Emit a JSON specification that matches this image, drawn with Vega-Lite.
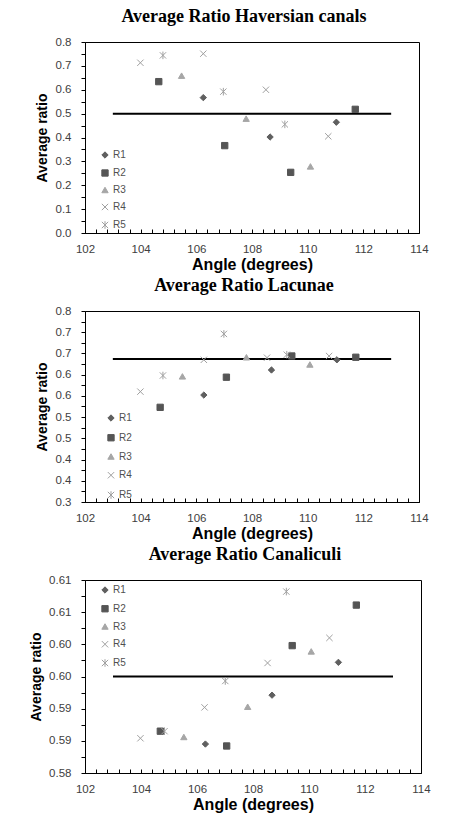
{
  "$schema": "https://vega.github.io/schema/vega-lite/v6.json",
  "padding": {"left": 29, "top": 7, "right": 10, "bottom": 4},
  "bounds": "flush",
  "spacing": 78,
  "config": {
    "view": {"stroke": "black", "strokeWidth": 1},
    "font": "Liberation Sans",
    "title": {"font": "Liberation Serif", "fontSize": 18, "fontWeight": "bold", "color": "black", "offset": 10, "frame": "group", "anchor": "middle", "dx": -8},
    "axis": {"grid": false, "domainColor": "black", "tickColor": "black", "labelFont": "Liberation Sans", "labelFontSize": 11.5, "labelColor": "#404040", "titleFont": "Liberation Sans", "titleColor": "black", "titleFontWeight": "bold", "labelOverlap": false, "labelFlush": false},
    "axisX": {"tickSize": -4, "labelPadding": 14, "titleFontSize": 16, "titlePadding": 2},
    "axisY": {"tickSize": 4, "labelPadding": 10, "titleFontSize": 14, "titlePadding": 6},
    "legend": {"labelFont": "Liberation Sans", "labelFontSize": 10, "labelColor": "#505050", "padding": 0, "symbolStrokeWidth": 1, "labelOffset": 3, "symbolSize": 40}
  },
  "datasets": {
    "lines": [
      {"panel": "H", "x": 103, "xe": 113, "y": 0.5},
      {"panel": "L", "x": 103, "xe": 113, "y": 0.637},
      {"panel": "C", "x": 103, "xe": 113, "y": 0.595}
    ],
    "points": [
      {"panel": "H", "series": "R1", "x": 106.25, "y": 0.567},
      {"panel": "H", "series": "R1", "x": 108.65, "y": 0.402},
      {"panel": "H", "series": "R1", "x": 111.03, "y": 0.464},
      {"panel": "H", "series": "R2", "x": 104.65, "y": 0.634},
      {"panel": "H", "series": "R2", "x": 107.02, "y": 0.366},
      {"panel": "H", "series": "R2", "x": 109.39, "y": 0.254},
      {"panel": "H", "series": "R2", "x": 111.71, "y": 0.518},
      {"panel": "H", "series": "R3", "x": 105.47, "y": 0.659},
      {"panel": "H", "series": "R3", "x": 107.79, "y": 0.479},
      {"panel": "H", "series": "R3", "x": 110.1, "y": 0.279},
      {"panel": "H", "series": "R4", "x": 103.99, "y": 0.713},
      {"panel": "H", "series": "R4", "x": 106.25, "y": 0.751},
      {"panel": "H", "series": "R4", "x": 108.5, "y": 0.6},
      {"panel": "H", "series": "R4", "x": 110.74, "y": 0.405},
      {"panel": "H", "series": "R5", "x": 104.8, "y": 0.744},
      {"panel": "H", "series": "R5", "x": 106.97, "y": 0.592},
      {"panel": "H", "series": "R5", "x": 109.18, "y": 0.455},
      {"panel": "L", "series": "R1", "x": 106.27, "y": 0.552},
      {"panel": "L", "series": "R1", "x": 108.7, "y": 0.611},
      {"panel": "L", "series": "R1", "x": 111.05, "y": 0.635},
      {"panel": "L", "series": "R2", "x": 104.7, "y": 0.523},
      {"panel": "L", "series": "R2", "x": 107.08, "y": 0.594},
      {"panel": "L", "series": "R2", "x": 109.43, "y": 0.644},
      {"panel": "L", "series": "R2", "x": 111.73, "y": 0.641},
      {"panel": "L", "series": "R3", "x": 105.5, "y": 0.596},
      {"panel": "L", "series": "R3", "x": 107.8, "y": 0.641},
      {"panel": "L", "series": "R3", "x": 110.08, "y": 0.624},
      {"panel": "L", "series": "R4", "x": 103.99, "y": 0.56},
      {"panel": "L", "series": "R4", "x": 106.27, "y": 0.635},
      {"panel": "L", "series": "R4", "x": 108.54, "y": 0.64},
      {"panel": "L", "series": "R4", "x": 110.77, "y": 0.644},
      {"panel": "L", "series": "R5", "x": 104.8, "y": 0.598},
      {"panel": "L", "series": "R5", "x": 106.99, "y": 0.696},
      {"panel": "L", "series": "R5", "x": 109.25, "y": 0.647},
      {"panel": "C", "series": "R1", "x": 106.3, "y": 0.5845},
      {"panel": "C", "series": "R1", "x": 108.68, "y": 0.5921},
      {"panel": "C", "series": "R1", "x": 111.05, "y": 0.5972},
      {"panel": "C", "series": "R2", "x": 104.69, "y": 0.5865},
      {"panel": "C", "series": "R2", "x": 107.06, "y": 0.5842},
      {"panel": "C", "series": "R2", "x": 109.4, "y": 0.5998},
      {"panel": "C", "series": "R2", "x": 111.69, "y": 0.6061},
      {"panel": "C", "series": "R3", "x": 105.53, "y": 0.5856},
      {"panel": "C", "series": "R3", "x": 107.81, "y": 0.5903},
      {"panel": "C", "series": "R3", "x": 110.08, "y": 0.5989},
      {"panel": "C", "series": "R4", "x": 103.98, "y": 0.5854},
      {"panel": "C", "series": "R4", "x": 106.27, "y": 0.5902},
      {"panel": "C", "series": "R4", "x": 108.52, "y": 0.5971},
      {"panel": "C", "series": "R4", "x": 110.73, "y": 0.601},
      {"panel": "C", "series": "R5", "x": 104.84, "y": 0.5865},
      {"panel": "C", "series": "R5", "x": 107.01, "y": 0.5943},
      {"panel": "C", "series": "R5", "x": 109.19, "y": 0.6082}
    ]
  },
  "vconcat": [
    {
      "title": "Average Ratio Haversian canals",
      "width": 334,
      "height": 191,
      "encoding": {
        "x": {"field": "x", "type": "quantitative", "scale": {"domain": [102, 114], "nice": false, "zero": false},
          "axis": {"title": "Angle (degrees)", "values": [102,102.4,102.8,103.2,103.6,104,104.4,104.8,105.2,105.6,106,106.4,106.8,107.2,107.6,108,108.4,108.8,109.2,109.6,110,110.4,110.8,111.2,111.6,112,112.4,112.8,113.2,113.6,114], "labelExpr": "round(datum.value*10) % 20 == 0 ? format(datum.value, '.0f') : ''"}},
        "y": {"field": "y", "type": "quantitative", "scale": {"domain": [0, 0.8], "nice": false, "zero": false},
          "axis": {"title": "Average ratio", "values": [0,0.05,0.1,0.15,0.2,0.25,0.3,0.35,0.4,0.45,0.5,0.55,0.6,0.65,0.7,0.75,0.8], "labelExpr": "round(datum.value*400) % 40 == 0 ? format(datum.value, '.1f') : ''"}}
      },
      "layer": [
        {"data": {"name": "lines"}, "transform": [{"filter": "datum.panel == 'H'"}], "mark": {"type": "rule", "color": "black", "strokeWidth": 2}, "encoding": {"x2": {"field": "xe"}}},
        {"data": {"name": "points"}, "transform": [{"filter": "datum.panel == 'H'"}],
          "mark": {"type": "point", "filled": false, "size": 40, "strokeWidth": 1, "opacity": 1},
          "encoding": {
            "color": {"field": "series", "type": "nominal", "scale": {"domain": ["R1","R2","R3","R4","R5"], "range": ["#5f5f5f","#555555","#a6a6a6","#a0a0a0","#a0a0a0"]}, "legend": {"title": null, "orient": "none", "legendX": 15, "legendY": 108, "rowPadding": 6}},
            "fill": {"field": "series", "type": "nominal", "scale": {"domain": ["R1","R2","R3","R4","R5"], "range": ["#5f5f5f","#555555","#a6a6a6","transparent","transparent"]}, "legend": {"title": null, "orient": "none", "legendX": 15, "legendY": 108, "rowPadding": 6}},
            "shape": {"field": "series", "type": "nominal", "scale": {"domain": ["R1","R2","R3","R4","R5"], "range": ["diamond","square","triangle-up","M-1,-1L1,1M-1,1L1,-1","M-1,-1L1,1M-1,1L1,-1M0,-1.2L0,1.2"]}, "legend": {"title": null, "orient": "none", "legendX": 15, "legendY": 108, "rowPadding": 6}}
          }}
      ]
    },
    {
      "title": "Average Ratio Lacunae",
      "width": 334,
      "height": 191,
      "encoding": {
        "x": {"field": "x", "type": "quantitative", "scale": {"domain": [102, 114], "nice": false, "zero": false},
          "axis": {"title": "Angle (degrees)", "values": [102,102.4,102.8,103.2,103.6,104,104.4,104.8,105.2,105.6,106,106.4,106.8,107.2,107.6,108,108.4,108.8,109.2,109.6,110,110.4,110.8,111.2,111.6,112,112.4,112.8,113.2,113.6,114], "labelExpr": "round(datum.value*10) % 20 == 0 ? format(datum.value, '.0f') : ''"}},
        "y": {"field": "y", "type": "quantitative", "scale": {"domain": [0.3, 0.75], "nice": false, "zero": false},
          "axis": {"title": "Average ratio", "values": [0.3,0.325,0.35,0.375,0.4,0.425,0.45,0.475,0.5,0.525,0.55,0.575,0.6,0.625,0.65,0.675,0.7,0.725,0.75], "labelExpr": "round(datum.value*400) % 20 == 0 ? format(round(datum.value*10 + 0.001)/10, '.1f') : ''"}}
      },
      "layer": [
        {"data": {"name": "lines"}, "transform": [{"filter": "datum.panel == 'L'"}], "mark": {"type": "rule", "color": "black", "strokeWidth": 2}, "encoding": {"x2": {"field": "xe"}}},
        {"data": {"name": "points"}, "transform": [{"filter": "datum.panel == 'L'"}],
          "mark": {"type": "point", "filled": false, "size": 40, "strokeWidth": 1, "opacity": 1},
          "encoding": {
            "color": {"field": "series", "type": "nominal", "scale": {"domain": ["R1","R2","R3","R4","R5"], "range": ["#5f5f5f","#555555","#a6a6a6","#a0a0a0","#a0a0a0"]}, "legend": {"title": null, "orient": "none", "legendX": 21, "legendY": 102, "rowPadding": 7.75}},
            "fill": {"field": "series", "type": "nominal", "scale": {"domain": ["R1","R2","R3","R4","R5"], "range": ["#5f5f5f","#555555","#a6a6a6","transparent","transparent"]}, "legend": {"title": null, "orient": "none", "legendX": 21, "legendY": 102, "rowPadding": 7.75}},
            "shape": {"field": "series", "type": "nominal", "scale": {"domain": ["R1","R2","R3","R4","R5"], "range": ["diamond","square","triangle-up","M-1,-1L1,1M-1,1L1,-1","M-1,-1L1,1M-1,1L1,-1M0,-1.2L0,1.2"]}, "legend": {"title": null, "orient": "none", "legendX": 21, "legendY": 102, "rowPadding": 7.75}}
          }}
      ]
    },
    {
      "title": "Average Ratio Canaliculi",
      "width": 336,
      "height": 193,
      "encoding": {
        "x": {"field": "x", "type": "quantitative", "scale": {"domain": [102, 114], "nice": false, "zero": false},
          "axis": {"title": "Angle (degrees)", "values": [102,102.4,102.8,103.2,103.6,104,104.4,104.8,105.2,105.6,106,106.4,106.8,107.2,107.6,108,108.4,108.8,109.2,109.6,110,110.4,110.8,111.2,111.6,112,112.4,112.8,113.2,113.6,114], "labelExpr": "round(datum.value*10) % 20 == 0 ? format(datum.value, '.0f') : ''"}},
        "y": {"field": "y", "type": "quantitative", "scale": {"domain": [0.58, 0.61], "nice": false, "zero": false},
          "axis": {"title": "Average ratio", "titlePadding": 5, "values": [0.58,0.5825,0.585,0.5875,0.59,0.5925,0.595,0.5975,0.6,0.6025,0.605,0.6075,0.61], "labelExpr": "round(datum.value*4000) % 20 == 0 ? format(round(datum.value*100 + 0.001)/100, '.2f') : ''"}}
      },
      "layer": [
        {"data": {"name": "lines"}, "transform": [{"filter": "datum.panel == 'C'"}], "mark": {"type": "rule", "color": "black", "strokeWidth": 2}, "encoding": {"x2": {"field": "xe"}}},
        {"data": {"name": "points"}, "transform": [{"filter": "datum.panel == 'C'"}],
          "mark": {"type": "point", "filled": false, "size": 40, "strokeWidth": 1, "opacity": 1},
          "encoding": {
            "color": {"field": "series", "type": "nominal", "scale": {"domain": ["R1","R2","R3","R4","R5"], "range": ["#5f5f5f","#555555","#a6a6a6","#a0a0a0","#a0a0a0"]}, "legend": {"title": null, "orient": "none", "legendX": 15, "legendY": 5, "rowPadding": 6.75}},
            "fill": {"field": "series", "type": "nominal", "scale": {"domain": ["R1","R2","R3","R4","R5"], "range": ["#5f5f5f","#555555","#a6a6a6","transparent","transparent"]}, "legend": {"title": null, "orient": "none", "legendX": 15, "legendY": 5, "rowPadding": 6.75}},
            "shape": {"field": "series", "type": "nominal", "scale": {"domain": ["R1","R2","R3","R4","R5"], "range": ["diamond","square","triangle-up","M-1,-1L1,1M-1,1L1,-1","M-1,-1L1,1M-1,1L1,-1M0,-1.2L0,1.2"]}, "legend": {"title": null, "orient": "none", "legendX": 15, "legendY": 5, "rowPadding": 6.75}}
          }}
      ]
    }
  ],
  "resolve": {"scale": {"x": "independent", "y": "independent", "color": "independent", "fill": "independent", "shape": "independent"}, "legend": {"color": "independent", "fill": "independent", "shape": "independent"}}
}
